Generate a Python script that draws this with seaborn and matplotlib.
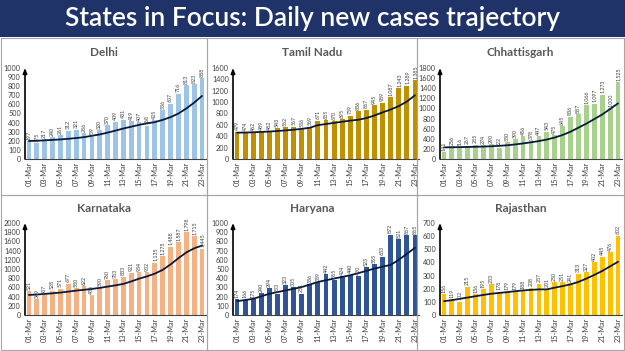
import numpy as np
import pandas as pd
import matplotlib
matplotlib.use("Agg")
import matplotlib.pyplot as plt
from matplotlib.patches import Rectangle
import seaborn as sns

sns.set_style("white")
plt.rcParams['font.family'] = ['Lato', 'DejaVu Sans']

dates = [f"{d:02d}-Mar" for d in range(1, 24)]

delhi = [197, 175, 217, 240, 261, 312, 321, 286, 239, 320, 370, 409, 431, 419, 407, 368, 425, 536, 607, 716, 813, 823, 888]
tamil_nadu = [479, 474, 462, 489, 482, 543, 562, 567, 536, 569, 671, 685, 670, 695, 759, 836, 867, 945, 989, 1087, 1243, 1289, 1385]
chhattisgarh = [141, 256, 216, 267, 285, 274, 290, 222, 330, 390, 456, 378, 447, 543, 475, 645, 836, 887, 1066, 1097, 1273, 1000, 1525]
karnataka = [521, 349, 437, 528, 571, 677, 580, 622, 436, 590, 760, 783, 833, 921, 934, 932, 1135, 1275, 1488, 1587, 1798, 1715, 1445]
haryana = [174, 166, 175, 240, 294, 233, 323, 305, 231, 336, 359, 442, 385, 424, 440, 420, 523, 555, 633, 872, 821, 867, 865]
rajasthan = [156, 119, 102, 215, 156, 195, 233, 178, 179, 179, 188, 208, 237, 201, 250, 251, 241, 313, 327, 402, 445, 476, 602]

# trend lines
delhi_trend = [198, 200, 205, 210, 215, 222, 230, 240, 255, 270, 290, 312, 335, 355, 375, 392, 405, 430, 460, 500, 555, 620, 693]
tamil_nadu_trend = [463, 465, 470, 476, 483, 492, 503, 515, 530, 550, 595, 615, 635, 655, 675, 690, 720, 765, 820, 870, 930, 1010, 1120]
chhattisgarh_trend = [230, 232, 235, 238, 242, 246, 252, 260, 272, 288, 308, 330, 355, 385, 425, 475, 540, 620, 700, 790, 880, 990, 1100]
karnataka_trend = [436, 445, 458, 472, 488, 508, 530, 548, 567, 590, 617, 645, 676, 730, 790, 840, 900, 981, 1100, 1236, 1360, 1450, 1510]
haryana_trend = [150, 163, 176, 203, 231, 249, 267, 285, 304, 331, 359, 378, 396, 414, 432, 455, 480, 505, 525, 545, 600, 665, 730]
rajasthan_trend = [105, 113, 123, 133, 143, 153, 162, 168, 174, 181, 187, 191, 195, 195, 208, 220, 233, 252, 277, 305, 335, 370, 405]

states = ["Delhi", "Tamil Nadu", "Chhattisgarh", "Karnataka", "Haryana", "Rajasthan"]
values = [delhi, tamil_nadu, chhattisgarh, karnataka, haryana, rajasthan]
trends = [delhi_trend, tamil_nadu_trend, chhattisgarh_trend, karnataka_trend, haryana_trend, rajasthan_trend]
ymax = [1000, 1600, 1800, 2000, 1000, 700]
ystep = [100, 200, 200, 200, 100, 100]
colors = ["#9DC3E6", "#BF9000", "#A9D18E", "#F4B183", "#2F5597", "#FFC000"]

W, H = 625, 351
fig = plt.figure(figsize=(W / 100, H / 100), dpi=100)
fig.patch.set_facecolor("white")

# banner
fig.patches.append(Rectangle((0, (H - 37) / H), 1, 37 / H, transform=fig.transFigure,
                             facecolor="#1F3368", edgecolor="none", zorder=0))
fig.text(0.5, (H - 18.5) / H, "States in Focus: Daily new cases trajectory", color="white",
         fontsize=19, ha="center", va="center", fontweight="semibold")

# panel frames (pixels: x0, x1) and (y_top, y_bottom)
cols = [(1, 207), (207, 417), (417, 624)]
rows = [(38, 195), (195, 350)]
for (x0, x1) in cols:
    for (y0, y1) in rows:
        fig.patches.append(Rectangle((x0 / W, 1 - y1 / H), (x1 - x0) / W, (y1 - y0) / H,
                                     transform=fig.transFigure, facecolor="none",
                                     edgecolor="#A6A6A6", lw=0.8, zorder=1))

axes_x = [(25, 206), (233, 419), (440, 622)]
axes_y = [(68, 159), (223, 315)]

for i, st in enumerate(states):
    r, c = divmod(i, 3)
    ax_l, ax_r = axes_x[c]
    ay_t, ay_b = axes_y[r]
    ax = fig.add_axes([ax_l / W, 1 - ay_b / H, (ax_r - ax_l) / W, (ay_b - ay_t) / H])
    df = pd.DataFrame({"date": dates, "cases": values[i]})
    sns.barplot(data=df, x="date", y="cases", color=colors[i], width=0.6, ax=ax,
                saturation=1, edgecolor="none")
    sns.lineplot(x=np.arange(len(dates)), y=trends[i], color="#0B1A3C", lw=1.3, ax=ax)
    ax.set_xlim(-0.5, len(dates) - 0.5)
    ax.set_ylim(0, ymax[i])
    ax.set_yticks(np.arange(0, ymax[i] + 1, ystep[i]))
    ax.set_xticks(np.arange(0, len(dates), 2))
    ax.set_xticklabels(dates[::2], rotation=90, fontsize=5.3, color="#404040")
    ax.tick_params(axis="y", labelsize=5.2, labelcolor="#404040", length=0, pad=3)
    ax.tick_params(axis="x", length=0, pad=2)
    ax.set_xlabel("")
    ax.set_ylabel("")
    ax.set_facecolor("none")
    for s in ["top", "right", "left"]:
        ax.spines[s].set_visible(False)
    ax.spines["bottom"].set_color("#404040")
    ax.spines["bottom"].set_linewidth(0.8)
    ax.annotate("", xy=(0, 1.0), xytext=(0, 0), xycoords="axes fraction",
                arrowprops=dict(arrowstyle="-|>,head_length=0.3,head_width=0.12",
                                color="black", lw=1.2, shrinkA=0, shrinkB=0))
    off = ymax[i] * 0.015
    for k, v in enumerate(values[i]):
        ax.text(k, v + off, f"{v:,}", rotation=90, ha="center", va="bottom",
                fontsize=3.8, color="#404040")
    px0, px1 = cols[c]
    fig.text(((px0 + px1) / 2) / W, 1 - (rows[r][0] + 14) / H, st,
             fontsize=8.5, fontweight="bold", color="#595959", ha="center", va="center")

fig.savefig("out.png", dpi=100, facecolor="white")
